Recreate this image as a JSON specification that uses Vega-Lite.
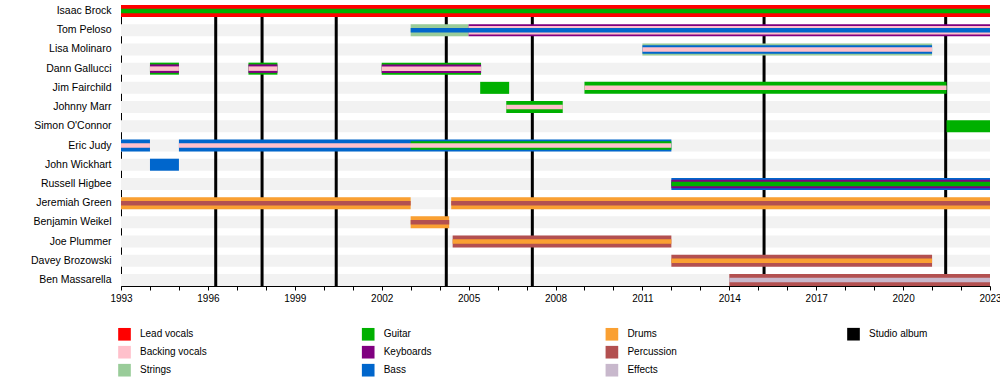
{
  "$schema": "https://vega.github.io/schema/vega-lite/v6.json",
  "width": 869,
  "height": 281,
  "autosize": "none",
  "padding": {"left": 121, "top": 5, "right": 10, "bottom": 99},
  "config": {"view": {"stroke": null}, "font": "Liberation Sans", "axis": {"labelOverlap": false}},
  "datasets": {
    "members": [
      {"member": "Isaac Brock"}, {"member": "Tom Peloso"}, {"member": "Lisa Molinaro"},
      {"member": "Dann Gallucci"}, {"member": "Jim Fairchild"}, {"member": "Johnny Marr"},
      {"member": "Simon O'Connor"}, {"member": "Eric Judy"}, {"member": "John Wickhart"},
      {"member": "Russell Higbee"}, {"member": "Jeremiah Green"}, {"member": "Benjamin Weikel"},
      {"member": "Joe Plummer"}, {"member": "Davey Brozowski"}, {"member": "Ben Massarella"}
    ],
    "albums": [
      {"year": 1996.27, "type": "Studio album"},
      {"year": 1997.87, "type": "Studio album"},
      {"year": 2000.43, "type": "Studio album"},
      {"year": 2004.23, "type": "Studio album"},
      {"year": 2007.2, "type": "Studio album"},
      {"year": 2015.2, "type": "Studio album"},
      {"year": 2021.47, "type": "Studio album"}
    ],
    "stints": [
      {"member": "Isaac Brock", "role": "Lead vocals", "from": 1993, "to": 2023, "rank": 1},
      {"member": "Isaac Brock", "role": "Guitar", "from": 1993, "to": 2023, "rank": 3},
      {"member": "Tom Peloso", "role": "Strings", "from": 2003, "to": 2005, "rank": 1},
      {"member": "Tom Peloso", "role": "Keyboards", "from": 2005, "to": 2023, "rank": 1},
      {"member": "Tom Peloso", "role": "Backing vocals", "from": 2005, "to": 2023, "rank": 2},
      {"member": "Tom Peloso", "role": "Bass", "from": 2003, "to": 2023, "rank": 3},
      {"member": "Lisa Molinaro", "role": "Strings", "from": 2011, "to": 2021, "rank": 1},
      {"member": "Lisa Molinaro", "role": "Bass", "from": 2011, "to": 2021, "rank": 2},
      {"member": "Lisa Molinaro", "role": "Backing vocals", "from": 2011, "to": 2021, "rank": 3},
      {"member": "Dann Gallucci", "role": "Guitar", "from": 1994, "to": 1995, "rank": 1},
      {"member": "Dann Gallucci", "role": "Keyboards", "from": 1994, "to": 1995, "rank": 2},
      {"member": "Dann Gallucci", "role": "Backing vocals", "from": 1994, "to": 1995, "rank": 3},
      {"member": "Dann Gallucci", "role": "Guitar", "from": 1997.4, "to": 1998.4, "rank": 1},
      {"member": "Dann Gallucci", "role": "Keyboards", "from": 1997.4, "to": 1998.4, "rank": 2},
      {"member": "Dann Gallucci", "role": "Backing vocals", "from": 1997.4, "to": 1998.4, "rank": 3},
      {"member": "Dann Gallucci", "role": "Guitar", "from": 2002, "to": 2005.43, "rank": 1},
      {"member": "Dann Gallucci", "role": "Keyboards", "from": 2002, "to": 2005.43, "rank": 2},
      {"member": "Dann Gallucci", "role": "Backing vocals", "from": 2002, "to": 2005.43, "rank": 3},
      {"member": "Jim Fairchild", "role": "Guitar", "from": 2005.4, "to": 2006.4, "rank": 1},
      {"member": "Jim Fairchild", "role": "Guitar", "from": 2009, "to": 2021.5, "rank": 1},
      {"member": "Jim Fairchild", "role": "Backing vocals", "from": 2009, "to": 2021.5, "rank": 3},
      {"member": "Johnny Marr", "role": "Guitar", "from": 2006.3, "to": 2008.25, "rank": 1},
      {"member": "Johnny Marr", "role": "Backing vocals", "from": 2006.3, "to": 2008.25, "rank": 3},
      {"member": "Simon O'Connor", "role": "Guitar", "from": 2021.5, "to": 2023, "rank": 1},
      {"member": "Eric Judy", "role": "Bass", "from": 1993, "to": 1994, "rank": 1},
      {"member": "Eric Judy", "role": "Backing vocals", "from": 1993, "to": 1994, "rank": 3},
      {"member": "Eric Judy", "role": "Bass", "from": 1995, "to": 2012, "rank": 1},
      {"member": "Eric Judy", "role": "Guitar", "from": 2003, "to": 2012, "rank": 2},
      {"member": "Eric Judy", "role": "Backing vocals", "from": 1995, "to": 2012, "rank": 3},
      {"member": "John Wickhart", "role": "Bass", "from": 1994, "to": 1995, "rank": 1},
      {"member": "Russell Higbee", "role": "Bass", "from": 2012, "to": 2023, "rank": 1},
      {"member": "Russell Higbee", "role": "Keyboards", "from": 2012, "to": 2023, "rank": 2},
      {"member": "Russell Higbee", "role": "Guitar", "from": 2012, "to": 2023, "rank": 3},
      {"member": "Jeremiah Green", "role": "Drums", "from": 1993, "to": 2003, "rank": 1},
      {"member": "Jeremiah Green", "role": "Percussion", "from": 1993, "to": 2003, "rank": 3},
      {"member": "Jeremiah Green", "role": "Drums", "from": 2004.4, "to": 2023, "rank": 1},
      {"member": "Jeremiah Green", "role": "Percussion", "from": 2004.4, "to": 2023, "rank": 3},
      {"member": "Benjamin Weikel", "role": "Drums", "from": 2003, "to": 2004.33, "rank": 1},
      {"member": "Benjamin Weikel", "role": "Percussion", "from": 2003, "to": 2004.33, "rank": 3},
      {"member": "Joe Plummer", "role": "Percussion", "from": 2004.45, "to": 2012, "rank": 1},
      {"member": "Joe Plummer", "role": "Drums", "from": 2004.45, "to": 2012, "rank": 3},
      {"member": "Davey Brozowski", "role": "Percussion", "from": 2012, "to": 2021, "rank": 1},
      {"member": "Davey Brozowski", "role": "Drums", "from": 2012, "to": 2021, "rank": 3},
      {"member": "Ben Massarella", "role": "Percussion", "from": 2014, "to": 2023, "rank": 1},
      {"member": "Ben Massarella", "role": "Effects", "from": 2014, "to": 2023, "rank": 3}
    ]
  },
  "layer": [
    {
      "data": {"name": "members"},
      "mark": {"type": "bar", "fill": "#f2f2f2"},
      "encoding": {
        "y": {
          "field": "member", "type": "nominal",
          "sort": ["Isaac Brock", "Tom Peloso", "Lisa Molinaro", "Dann Gallucci", "Jim Fairchild", "Johnny Marr", "Simon O'Connor", "Eric Judy", "John Wickhart", "Russell Higbee", "Jeremiah Green", "Benjamin Weikel", "Joe Plummer", "Davey Brozowski", "Ben Massarella"],
          "scale": {"paddingInner": 0.375, "paddingOuter": 0},
          "axis": {"title": null, "ticks": false, "domain": true, "domainColor": "#000", "domainWidth": 1, "labelPadding": 10, "labelFontSize": 10.5, "labelColor": "#000", "labelFont": "Liberation Sans"}
        },
        "x": {
          "datum": 1993, "type": "quantitative",
          "scale": {"domain": [1993, 2023], "nice": false, "zero": false},
          "axis": {"title": null, "grid": false, "values": [1993,1994,1995,1996,1997,1998,1999,2000,2001,2002,2003,2004,2005,2006,2007,2008,2009,2010,2011,2012,2013,2014,2015,2016,2017,2018,2019,2020,2021,2022,2023], "tickCount": 60, "labelExpr": "datum.value % 3 == 1 ? format(datum.value, 'd') : ''", "labelFlush": false, "labelOverlap": false, "tickSize": 4, "tickColor": "#000", "domainColor": "#000", "labelFontSize": 10, "labelColor": "#000", "labelPadding": 3, "labelFont": "Liberation Sans"}
        },
        "x2": {"datum": 2023}
      }
    },
    {
      "data": {"name": "albums"},
      "mark": {"type": "rule", "strokeWidth": 3},
      "encoding": {
        "x": {"field": "year", "type": "quantitative"},
        "stroke": {
          "field": "type", "type": "nominal",
          "scale": {"domain": ["Studio album"], "range": ["#000000"]},
          "legend": {"title": null, "orient": "none", "legendX": 726, "legendY": 322.7, "symbolType": "square", "symbolSize": 160, "symbolFillColor": "#000", "symbolStrokeWidth": 0, "labelFontSize": 10, "labelOffset": 9, "padding": 0, "labelColor": "#000", "labelFont": "Liberation Sans"}
        }
      }
    },
    {
      "data": {"name": "stints"},
      "transform": [{"filter": "datum.rank == 1"}],
      "mark": {"type": "bar"},
      "encoding": {
        "y": {"field": "member", "type": "nominal", "sort": ["Isaac Brock", "Tom Peloso", "Lisa Molinaro", "Dann Gallucci", "Jim Fairchild", "Johnny Marr", "Simon O'Connor", "Eric Judy", "John Wickhart", "Russell Higbee", "Jeremiah Green", "Benjamin Weikel", "Joe Plummer", "Davey Brozowski", "Ben Massarella"]},
        "x": {"field": "from", "type": "quantitative"},
        "x2": {"field": "to"},
        "fill": {
          "field": "role", "type": "nominal",
          "scale": {"domain": ["Lead vocals", "Backing vocals", "Strings", "Guitar", "Keyboards", "Bass", "Drums", "Percussion", "Effects"], "range": ["#ff0000", "#ffc0cb", "#99cc99", "#00b000", "#800080", "#0066cc", "#faa032", "#b35050", "#c8b8cc"]},
          "legend": {"title": null, "orient": "none", "legendX": -3, "legendY": 322.7, "columns": 3, "gridAlign": "all", "symbolType": "square", "symbolSize": 160, "symbolStrokeWidth": 0, "symbolOpacity": 1, "labelFontSize": 10, "labelOffset": 9, "rowPadding": 5, "columnPadding": 154.7, "padding": 0, "labelColor": "#000", "labelFont": "Liberation Sans"}
        }
      }
    },
    {
      "data": {"name": "stints"},
      "transform": [{"filter": "datum.rank == 2"}],
      "mark": {"type": "bar", "height": 8.5},
      "encoding": {
        "y": {"field": "member", "type": "nominal", "sort": ["Isaac Brock", "Tom Peloso", "Lisa Molinaro", "Dann Gallucci", "Jim Fairchild", "Johnny Marr", "Simon O'Connor", "Eric Judy", "John Wickhart", "Russell Higbee", "Jeremiah Green", "Benjamin Weikel", "Joe Plummer", "Davey Brozowski", "Ben Massarella"]},
        "x": {"field": "from", "type": "quantitative"},
        "x2": {"field": "to"},
        "fill": {"field": "role", "type": "nominal"}
      }
    },
    {
      "data": {"name": "stints"},
      "transform": [{"filter": "datum.rank == 3"}],
      "mark": {"type": "bar", "height": 4.5},
      "encoding": {
        "y": {"field": "member", "type": "nominal", "sort": ["Isaac Brock", "Tom Peloso", "Lisa Molinaro", "Dann Gallucci", "Jim Fairchild", "Johnny Marr", "Simon O'Connor", "Eric Judy", "John Wickhart", "Russell Higbee", "Jeremiah Green", "Benjamin Weikel", "Joe Plummer", "Davey Brozowski", "Ben Massarella"]},
        "x": {"field": "from", "type": "quantitative"},
        "x2": {"field": "to"},
        "fill": {"field": "role", "type": "nominal"}
      }
    }
  ]
}
